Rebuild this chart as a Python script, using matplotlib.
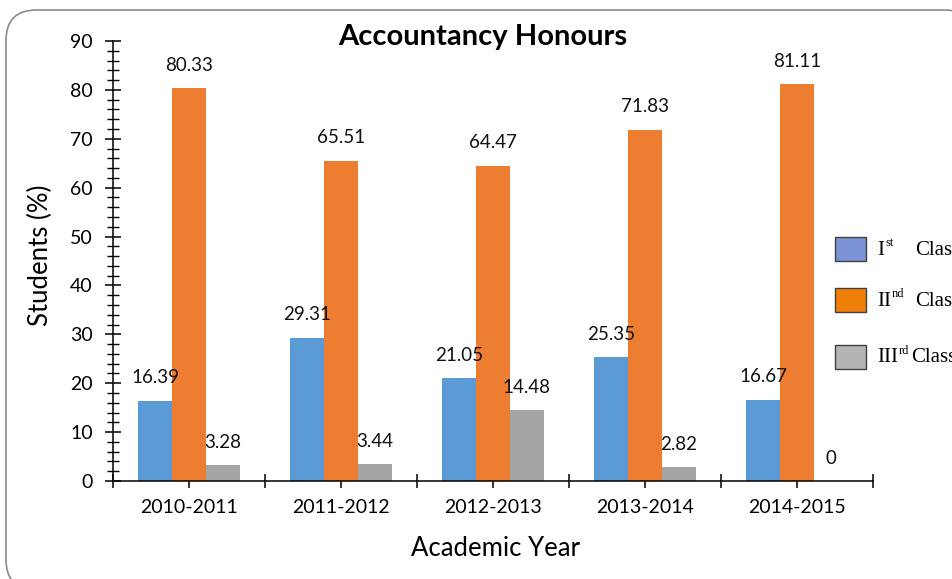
import matplotlib
matplotlib.use("Agg")
import matplotlib.pyplot as plt
from matplotlib.patches import FancyBboxPatch, Rectangle
from matplotlib.ticker import MultipleLocator, FixedLocator
import numpy as np

years = ["2010-2011", "2011-2012", "2012-2013", "2013-2014", "2014-2015"]
first_class = [16.39, 29.31, 21.05, 25.35, 16.67]
second_class = [80.33, 65.51, 64.47, 71.83, 81.11]
third_class = [3.28, 3.44, 14.48, 2.82, 0]
series_names = [("I", "st"), ("II", "nd"), ("III", "rd")]

bar_colors = ["#5B9BD5", "#ED7D31", "#A5A5A5"]
legend_colors = ["#7B93D6", "#F07F0A", "#B4B4B4"]

W, H = 952, 579
fig = plt.figure(figsize=(W / 100, H / 100), dpi=100)
plt.rcParams['font.family'] = ['Lato', 'DejaVu Sans']

def fx(px):
    return px / W

def fy(py):
    return 1 - py / H

# rounded border
border = FancyBboxPatch((fx(6), fy(590)), fx(975) - fx(6), fy(10) - fy(590),
                        boxstyle="round,pad=0,rounding_size=0.032",
                        transform=fig.transFigure, facecolor="white",
                        edgecolor="#8c8c8c", linewidth=1.2, zorder=-5,
                        mutation_aspect=W / H)
fig.patches.append(border)

ax = fig.add_axes([fx(113), fy(481), fx(873) - fx(113), fy(41) - fy(481)])
ax.set_facecolor("none")
ax.set_zorder(2)

x = np.arange(len(years))
bw = 0.222
for i, (vals, c) in enumerate(zip([first_class, second_class, third_class], bar_colors)):
    xs = x + (i - 1) * bw
    ax.bar(xs, vals, width=bw, color=c, edgecolor="none", zorder=2)
    for xi, v in zip(xs, vals):
        ax.annotate(f"{v:g}" if v != 0 else "0", (xi, v), xytext=(0, 16.5),
                    textcoords="offset points", ha="center", va="center",
                    fontsize=13.5, color="#111111")

ax.set_xlim(-0.5, 4.5)
ax.set_ylim(0, 90)
ax.yaxis.set_major_locator(MultipleLocator(10))
ax.yaxis.set_minor_locator(MultipleLocator(2))
ax.set_xticks(x)
ax.set_xticklabels(years)
ax.xaxis.set_minor_locator(FixedLocator([-0.5, 0.5, 1.5, 2.5, 3.5, 4.5]))

for s in ["top", "right"]:
    ax.spines[s].set_visible(False)
for s in ["left", "bottom"]:
    ax.spines[s].set_linewidth(1.1)
    ax.spines[s].set_color("black")

ax.tick_params(axis="y", which="major", direction="inout", length=11, width=1.1,
               labelsize=14, pad=9)
ax.tick_params(axis="y", which="minor", direction="inout", length=8, width=1.0)
ax.tick_params(axis="x", which="both", direction="inout", length=10, width=1.1,
               labelsize=14, pad=8)

fig.text(fx(40), fy(255), "Students (%)", rotation=90, ha="center", va="center",
         fontsize=18.5)
fig.text(fx(495), fy(549), "Academic Year", ha="center", va="center", fontsize=18.5)
fig.text(fx(483), fy(37), "Accountancy Honours", ha="center", va="center",
         fontsize=21, fontweight="bold")

# legend
sq_tops = [237, 288, 345]
for (main, sup), col, top in zip(series_names, legend_colors, sq_tops):
    r = Rectangle((fx(835), fy(top + 24)), fx(31), fy(top) - fy(top + 24),
                  transform=fig.transFigure, facecolor=col, edgecolor="#404040",
                  linewidth=1.0)
    fig.patches.append(r)
    cy = top + 12
    t = fig.text(fx(877), fy(cy + 1), main, ha="left", va="center", fontsize=15,
                 family=["Liberation Serif"])
    fig.canvas.draw()
    bb = t.get_window_extent()
    fig.text(bb.x1 / W + fx(1), fy(cy - 6), sup, ha="left", va="center",
             fontsize=9, family=["Liberation Serif"])
    fig.text(fx(915 if main != "III" else 911), fy(cy + 1), "Class", ha="left",
             va="center", fontsize=15, family=["Liberation Serif"])

fig.savefig("out.png", dpi=100)
